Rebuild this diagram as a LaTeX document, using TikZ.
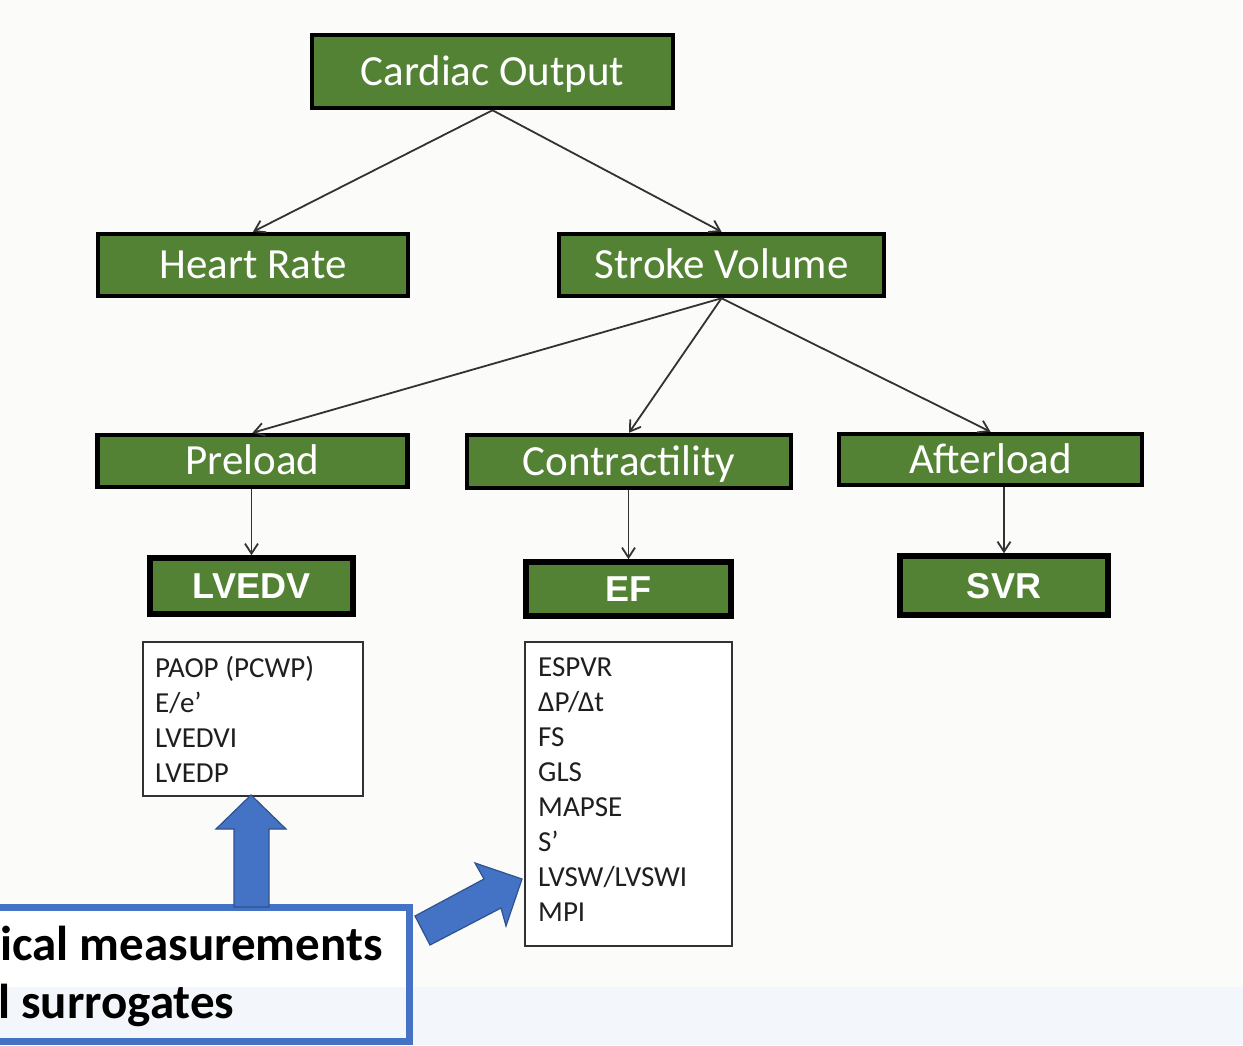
\documentclass[tikz,border=0pt]{standalone}
\usepackage{fontspec}
\setmainfont{Carlito}
\newfontfamily\arialfont{Liberation Sans}
\usetikzlibrary{arrows.meta}
\definecolor{boxgreen}{RGB}{84,130,53}
\definecolor{calloutblue}{RGB}{68,114,196}
\definecolor{arrowedge}{RGB}{47,82,143}
\definecolor{bgpage}{RGB}{251,251,250}
\definecolor{bgstrip}{RGB}{243,246,250}
\definecolor{linkgray}{RGB}{50,50,50}
\tikzset{
 greenbox/.style={draw=black, line width=4.5pt, fill=boxgreen, text=white, inner sep=0pt,
   text height=27.7pt, text depth=0pt, font=\fontsize{43}{52}\selectfont},
 codebox/.style={greenbox, line width=5.5pt, text height=25.8pt,
   font=\arialfont\bfseries\fontsize{36}{43}\selectfont},
 listbox/.style={draw=linkgray, line width=1.5pt, fill=white, inner sep=0pt},
 listitem/.style={anchor=base west, inner sep=0pt, font=\fontsize{29}{35}\selectfont, text=black!88},
 link/.style={draw=linkgray, line width=1.8pt, -{Straight Barb[length=10pt,width=13pt]}},
 blockarrow/.style={fill=calloutblue, draw=arrowedge, line width=1.2pt, line join=miter},
 callouttext/.style={anchor=base west, inner sep=0pt, text=black, font=\bfseries\fontsize{49}{58}\selectfont},
}
\begin{document}
\begin{tikzpicture}[x=1pt,y=-1pt]
\useasboundingbox (0,0) rectangle (1243,1045);
\fill[bgpage] (0,0) rectangle (1243,1045);
\fill[white] (0,907) rectangle (409,987);
\fill[bgstrip] (0,987) rectangle (1243,1045);

% green boxes
\node[greenbox, minimum width=361pt, minimum height=73pt] (co) at (492.5,71.5) {Cardiac Output};
\node[greenbox, minimum width=310pt, minimum height=62pt] (hr) at (253,265) {Heart Rate};
\node[greenbox, minimum width=325pt, minimum height=62pt] (sv) at (721.5,265) {Stroke Volume};
\node[greenbox, minimum width=310pt, minimum height=52pt] (pre) at (252.5,461) {Preload};
\node[greenbox, minimum width=324pt, minimum height=53pt] (con) at (629,461.5) {Contractility};
\node[greenbox, minimum width=303pt, minimum height=51pt] (aft) at (990.5,459.5) {Afterload};
\node[codebox, minimum width=203pt, minimum height=56pt] (lvedv) at (251.5,586) {LVEDV};
\node[codebox, minimum width=205pt, minimum height=54pt] (ef) at (628.5,589) {EF};
\node[codebox, minimum width=208pt, minimum height=59pt] (svr) at (1004,585.5) {SVR};

% connectors
\draw[link] (co.south) -- (hr.north);
\draw[link] (co.south) -- (sv.north);
\draw[link] (sv.south) -- (pre.north);
\draw[link] (sv.south) -- (con.north);
\draw[link] (sv.south) -- (aft.north);
\draw[link] (lvedv.north |- pre.south) -- (lvedv.north);
\draw[link] (ef.north |- con.south) -- (ef.north);
\draw[link] (svr.north |- aft.south) -- (svr.north);

% list boxes
\node[listbox, minimum width=220pt, minimum height=154pt] (list1) at (253,719) {};
\node[listbox, minimum width=207pt, minimum height=304pt] (list2) at (628.5,794) {};
\foreach \t [count=\i] in {PAOP (PCWP), E/e’, LVEDVI, LVEDP}
  \node[listitem] (pa\i) at (155,{677+35*(\i-1)}) {\t};
\foreach \t [count=\i] in {ESPVR, ΔP/Δt, FS, GLS, MAPSE, S’, LVSW/LVSWI, MPI}
  \node[listitem] (ct\i) at (538,{676+35*(\i-1)}) {\t};

% callout
\node[draw=calloutblue, line width=7pt, minimum width=439pt, minimum height=134pt, inner sep=0pt] (callout) at (189.5,974) {};
\node[callouttext] (cl1) at (0,960) {ical measurements};
\node[callouttext] (cl2) at (-2,1018) {l surrogates};

% block arrows
\draw[blockarrow] (234,907) -- (234,829) -- (216,829) -- (251,795) -- (286,829) -- (269,829) -- (269,907) -- cycle;
\draw[blockarrow] (415,916) -- (484,879) -- (475,863) -- (522,879) -- (506,926) -- (501,908) -- (430,945) -- cycle;
\end{tikzpicture}
\end{document}
